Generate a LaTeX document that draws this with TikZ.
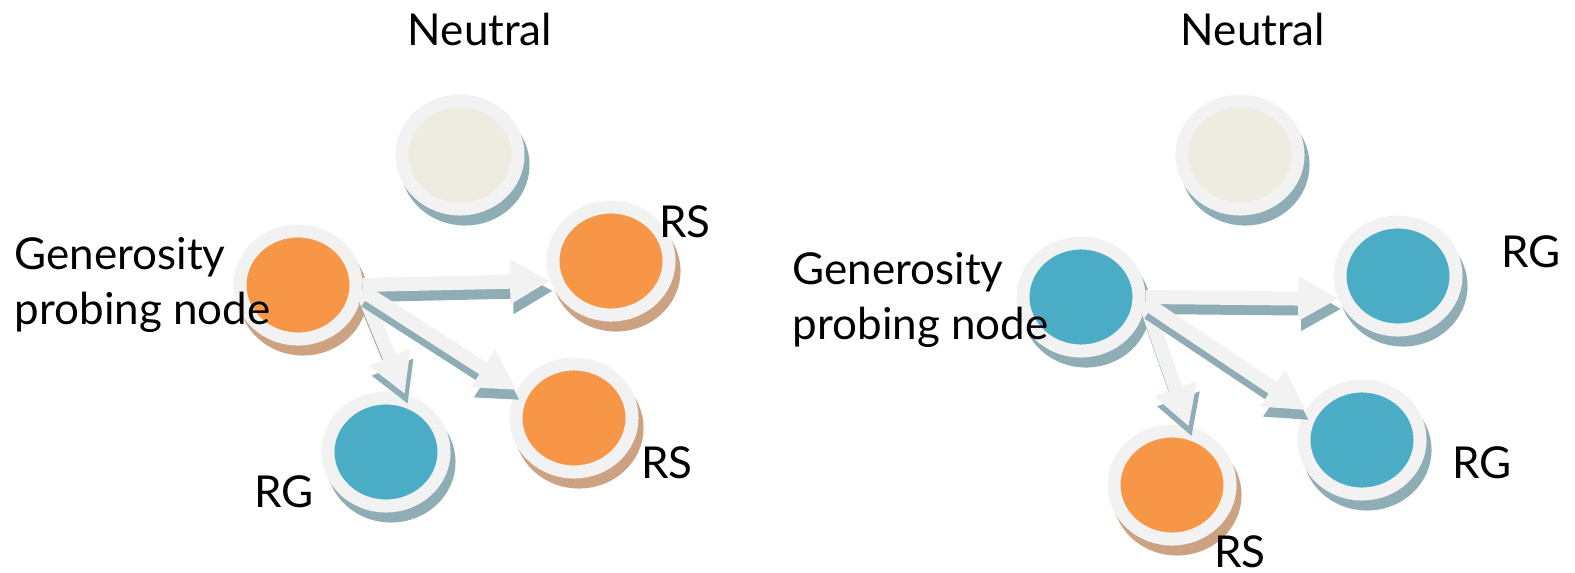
\documentclass[tikz,border=0pt]{standalone}
\usepackage{fontspec}
\setmainfont{Lato}
\usepackage{tikz}
\usetikzlibrary{arrows.meta}
\usetikzlibrary{shapes.geometric}
\definecolor{ringgray}{HTML}{F2F2F2}
\definecolor{probeorange}{HTML}{F79646}
\definecolor{probeaqua}{HTML}{4BACC6}
\definecolor{neutralfill}{HTML}{EEECE1}
\definecolor{blueshade}{HTML}{8FADB5}
\definecolor{orangeshade}{HTML}{CDA282}

\begin{document}
\begin{tikzpicture}
        [x=0.01cm,y=-0.01cm,
          ball/.style={ellipse,draw=ringgray,line width=1.3mm,minimum width=11.6mm,
            minimum height=10.8mm,inner sep=0pt,fill=#1},
          shade/.style={preaction={fill=#1,draw=#1,transform canvas={xshift=0.5mm,yshift=-1mm}}},
          neutralball/.style={ball=neutralfill,shade=blueshade},
          orangeball/.style={ball=probeorange,shade=orangeshade},
          aquaball/.style={ball=probeaqua,shade=blueshade},
          flow/.style={draw=ringgray,line width=1.4mm,-{Triangle[length=4mm,width=4.2mm]}},
          flowshade/.style={flow,draw=blueshade,transform canvas={xshift=0.3mm,yshift=-1mm}},
          tag/.style={inner sep=0pt,font=\fontsize{12.5pt}{15.4pt}\selectfont}]
        \useasboundingbox (0,0) rectangle (1575,573);
        % left: orange probing node
        \node[neutralball] (nl) at (460,155) {};
        \node[orangeball] (gl) at (298,285) {};
        \node[orangeball] (rsa) at (611,261) {};
        \node[orangeball] (rsb) at (574,418) {};
        \node[aquaball] (rga) at (386,452) {};
        % right: aqua probing node
        \node[neutralball] (nr) at (1240,155) {};
        \node[aquaball] (gr) at (1081,297) {};
        \node[aquaball] (rgc) at (1398,276) {};
        \node[aquaball] (rgd) at (1362,440) {};
        \node[orangeball] (rsc) at (1172,485) {};
        \foreach \from/\to in {gl.0/rsa.198,gl.-5/rga.72,gl.-5/rsb.154,
                               gr.0/rgc.201,gr.-5/rsc.74,gr.-5/rgd.152}
        {
          \draw[flowshade] (\from) -- (\to);
          \draw[flow] (\from) -- (\to);
        }
        % labels
        \node[tag] (nltext) at (480,29) {Neutral};
        \node[tag] (nrtext) at (1253,29) {Neutral};
        \node[tag,align=left,anchor=west] (gltext) at (14,285) {Generosity\\probing node};
        \node[tag,align=left,anchor=west] (grtext) at (792,300) {Generosity\\probing node};
        \node[tag] (rsatext) at (685,222) {RS};
        \node[tag] (rsbtext) at (667,463) {RS};
        \node[tag] (rgatext) at (284,492) {RG};
        \node[tag] (rgctext) at (1531,252) {RG};
        \node[tag] (rgdtext) at (1482,463) {RG};
        \node[tag] (rsctext) at (1240,552) {RS};
      \end{tikzpicture}
\end{document}
